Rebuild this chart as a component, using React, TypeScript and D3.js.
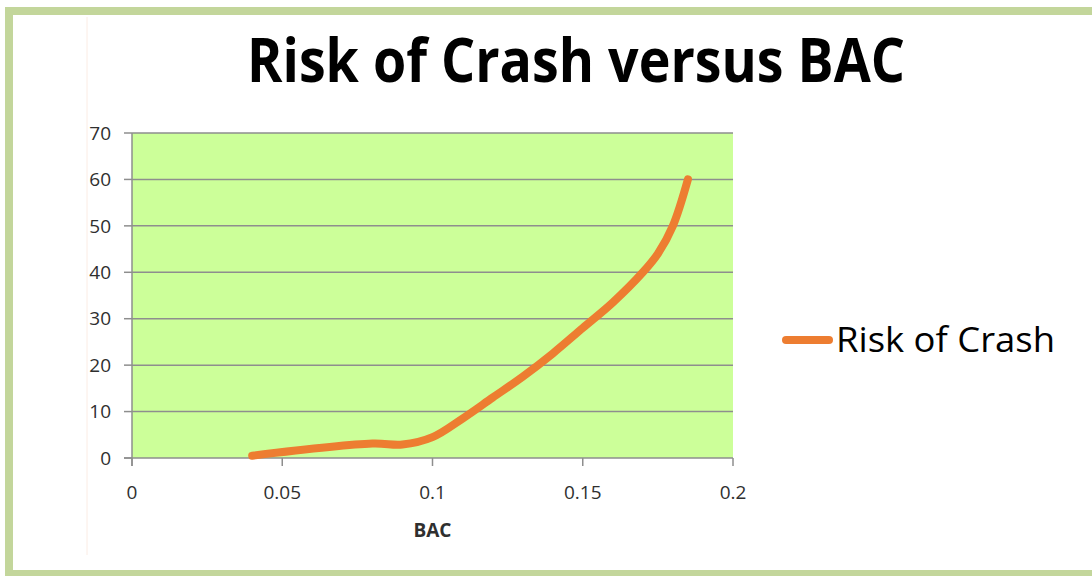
import React, { useEffect, useRef } from 'react';
import * as d3 from 'd3';

// Data
const bac = [0.04, 0.08, 0.09, 0.1, 0.11, 0.12, 0.13, 0.14, 0.15, 0.16, 0.17, 0.175, 0.18, 0.185];
const risk = [0.5, 3.1, 2.9, 4.5, 8.5, 13, 17.5, 22.5, 28, 33.5, 40, 44, 50, 60];
const xTicks = [0, 0.05, 0.1, 0.15, 0.2];
const yTicks = [0, 10, 20, 30, 40, 50, 60, 70];
const seriesName = 'Risk of Crash';
const title = 'Risk of Crash versus BAC';

const W = 1092;
const H = 576;

const App: React.FC = () => {
  const svgRef = useRef<SVGSVGElement>(null);

  useEffect(() => {
    if (!svgRef.current) return;
    const svg = d3.select(svgRef.current);
    svg.selectAll('*').remove();

    const font = "'Open Sans', sans-serif";
    const plot = { left: 132, right: 733, top: 133, bottom: 458 };

    const x = d3.scaleLinear().domain([0, 0.2]).range([plot.left, plot.right]);
    const y = d3.scaleLinear().domain([0, 70]).range([plot.bottom, plot.top]);

    // frame
    svg.append('rect')
      .attr('x', 9).attr('y', 11)
      .attr('width', 1100).attr('height', 563)
      .attr('fill', 'white')
      .attr('stroke', '#c3d69b')
      .attr('stroke-width', 8);

    // faint inner vertical line
    svg.append('line')
      .attr('x1', 87).attr('x2', 87)
      .attr('y1', 17).attr('y2', 555)
      .attr('stroke', '#fbece4')
      .attr('stroke-width', 1);

    // title
    svg.append('text')
      .attr('x', 247).attr('y', 82)
      .attr('textLength', 658)
      .attr('lengthAdjust', 'spacingAndGlyphs')
      .style('font-family', font)
      .style('font-weight', 700)
      .style('font-size', '61px')
      .attr('fill', '#000')
      .text(title);

    // plot background
    svg.append('rect')
      .attr('x', plot.left).attr('y', plot.top)
      .attr('width', plot.right - plot.left)
      .attr('height', plot.bottom - plot.top)
      .attr('fill', '#ccff99');

    // gridlines + y ticks
    const g = svg.append('g');
    g.selectAll('.grid')
      .data(yTicks.filter(d => d > 0))
      .join('line')
      .attr('x1', plot.left).attr('x2', plot.right)
      .attr('y1', d => y(d)).attr('y2', d => y(d))
      .attr('stroke', '#8e8e8e')
      .attr('stroke-width', 1.5);

    g.selectAll('.ytick')
      .data(yTicks)
      .join('line')
      .attr('x1', plot.left - 8).attr('x2', plot.left)
      .attr('y1', d => y(d)).attr('y2', d => y(d))
      .attr('stroke', '#8e8e8e')
      .attr('stroke-width', 1.5);

    g.selectAll('.ylab')
      .data(yTicks)
      .join('text')
      .attr('x', 111)
      .attr('y', d => y(d))
      .attr('dy', '0.35em')
      .attr('text-anchor', 'end')
      .style('font-family', font)
      .style('font-size', '19px')
      .attr('fill', '#2f2f2f')
      .text(d => d);

    // axes lines
    g.append('line')
      .attr('x1', plot.left).attr('x2', plot.left)
      .attr('y1', plot.top).attr('y2', plot.bottom + 8)
      .attr('stroke', '#8e8e8e').attr('stroke-width', 1.5);
    g.append('line')
      .attr('x1', plot.left - 8).attr('x2', plot.right)
      .attr('y1', plot.bottom).attr('y2', plot.bottom)
      .attr('stroke', '#8e8e8e').attr('stroke-width', 1.5);

    g.selectAll('.xtick')
      .data(xTicks)
      .join('line')
      .attr('x1', d => x(d)).attr('x2', d => x(d))
      .attr('y1', plot.bottom).attr('y2', plot.bottom + 8)
      .attr('stroke', '#8e8e8e')
      .attr('stroke-width', 1.5);

    g.selectAll('.xlab')
      .data(xTicks)
      .join('text')
      .attr('x', d => x(d))
      .attr('y', 492)
      .attr('dy', '0.35em')
      .attr('text-anchor', 'middle')
      .style('font-family', font)
      .style('font-size', '19px')
      .attr('fill', '#2f2f2f')
      .text(d => String(d));

    g.append('text')
      .attr('x', x(0.1))
      .attr('y', 537)
      .attr('text-anchor', 'middle')
      .style('font-family', font)
      .style('font-weight', 700)
      .style('font-size', '19px')
      .attr('fill', '#2f2f2f')
      .text('BAC');

    // series line
    const pts = bac.map((b, i) => [b, risk[i]] as [number, number]);
    const line = d3.line<[number, number]>()
      .x(d => x(d[0]))
      .y(d => y(d[1]))
      .curve(d3.curveCatmullRom.alpha(0.5));

    svg.append('path')
      .datum(pts)
      .attr('d', line)
      .attr('fill', 'none')
      .attr('stroke', '#ed7d31')
      .attr('stroke-width', 8)
      .attr('stroke-linecap', 'round')
      .attr('stroke-linejoin', 'round');

    // legend
    svg.append('line')
      .attr('x1', 786).attr('x2', 829)
      .attr('y1', 340).attr('y2', 340)
      .attr('stroke', '#ed7d31')
      .attr('stroke-width', 8)
      .attr('stroke-linecap', 'round');

    svg.append('text')
      .attr('x', 836).attr('y', 352)
      .attr('textLength', 219)
      .attr('lengthAdjust', 'spacingAndGlyphs')
      .style('font-family', font)
      .style('font-size', '35px')
      .attr('fill', '#000')
      .text(seriesName);
  }, []);

  return (
    <div style={{ position: 'absolute', left: 0, top: 0, width: W, height: H, background: 'white' }}>
      <svg ref={svgRef} width={W} height={H} style={{ display: 'block' }} />
    </div>
  );
};

export default App;
